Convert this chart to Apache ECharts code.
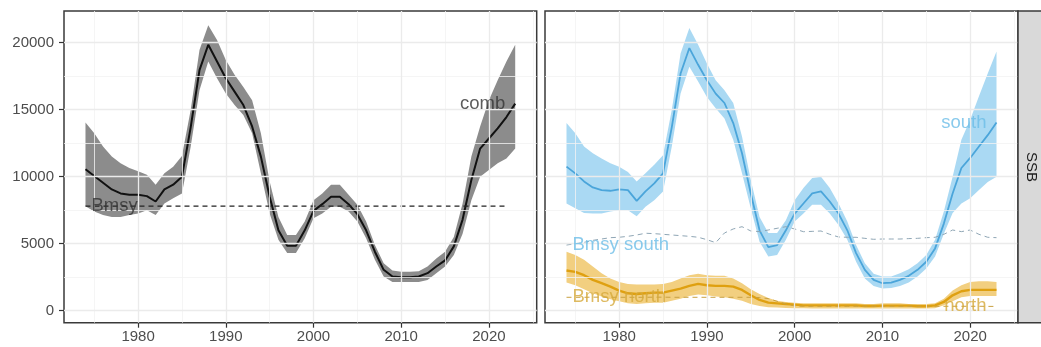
<!DOCTYPE html>
<html><head><meta charset="utf-8">
<script src="https://cdn.jsdelivr.net/npm/echarts@6/dist/echarts.min.js"></script>
<style>html,body{margin:0;padding:0;background:#fff}#c{width:1041px;height:347px}</style>
</head><body><div id="c"></div>
<script>
const years = [1974,1975,1976,1977,1978,1979,1980,1981,1982,1983,1984,1985,1986,1987,1988,1989,1990,1991,1992,1993,1994,1995,1996,1997,1998,1999,2000,2001,2002,2003,2004,2005,2006,2007,2008,2009,2010,2011,2012,2013,2014,2015,2016,2017,2018,2019,2020,2021,2022,2023];

const combMid = [10550,10050,9550,9050,8750,8650,8650,8550,8150,9050,9400,10000,13700,17950,19850,18600,17350,16350,15350,13750,11500,8500,6000,4850,4850,6000,7450,7950,8500,8500,7950,7200,6000,4400,3050,2550,2500,2500,2550,2800,3300,3750,4800,6800,9750,12100,12850,13600,14450,15450];
const combHi = [14050,13250,12250,11500,11000,10650,10400,10150,9400,10250,10750,11550,15000,19450,21300,20200,18700,17600,16700,15700,13250,9650,7000,5650,5650,6650,8250,8750,9400,9400,8650,7900,6650,4900,3550,3000,2900,2900,2950,3300,3900,4400,5500,8000,11500,13750,15700,17200,18600,19850];
const combLo = [7800,7400,7150,7000,7000,7150,7250,7500,7150,8000,8400,8750,12250,16450,18600,17350,16200,15350,14600,13250,10250,7250,5300,4300,4300,5400,6900,7250,7750,7750,7400,6650,5400,3800,2550,2150,2150,2150,2150,2300,2800,3300,4150,5750,8250,10000,10500,11000,11350,12100];
const bmsyCombYears = [1974, 2022];
const bmsyComb = 7800;

const southMid = [10750,10250,9650,9200,9000,8950,9050,9000,8200,8900,9500,10250,13700,17700,19600,18350,17200,16200,15500,14000,11750,8750,6000,4750,4900,6000,7250,8000,8750,8900,8150,7250,6000,4300,3050,2300,2050,2100,2300,2600,3050,3650,4650,6500,8750,10650,11400,12250,13100,14050];
const southHi = [14000,13250,12250,11750,11350,11000,10750,10350,9650,10250,10900,11600,15000,19200,21100,19850,18450,17200,16450,15500,13000,9750,7000,5800,5800,6750,8250,9150,9900,10000,9150,8000,6650,4900,3550,2750,2550,2550,2800,3100,3550,4150,5300,7400,10000,12750,14250,16000,17700,19350];
const southLo = [8000,7650,7300,7250,7250,7400,7500,7500,7050,7750,8250,8900,12250,16200,18200,17100,15950,15100,14350,12750,10250,7650,5150,4050,4150,5300,6650,7250,7900,7900,7250,6400,5300,3650,2400,1850,1650,1700,1850,2100,2550,3150,4050,5750,7300,8000,8400,9000,9600,10000];
const bmsySouth = [4900,5000,5100,5250,5350,5450,5480,5550,5650,5780,5750,5700,5650,5600,5550,5480,5300,5075,5800,6100,6269,5950,5900,6022,6150,6269,6100,5896,5920,5948,5700,5500,5480,5478,5400,5328,5350,5350,5350,5380,5400,5450,5478,5700,6022,5900,6022,5700,5478,5450];

const northMid = [3000,2900,2650,2300,2050,1800,1500,1300,1250,1300,1350,1350,1500,1650,1850,2000,1900,1850,1850,1800,1550,1150,800,600,550,500,450,400,400,400,400,400,400,400,350,350,380,380,380,380,330,330,400,650,1150,1450,1550,1550,1550,1550];
const northHi = [4400,4150,3800,3300,2800,2400,2150,2000,1950,1950,1950,2000,2150,2400,2650,2750,2650,2600,2600,2400,2050,1600,1250,950,750,650,600,550,550,550,550,550,550,550,500,500,550,550,550,500,500,500,550,900,1500,1900,2150,2200,2200,2150];
const northLo = [2100,1900,1600,1300,1050,850,700,550,500,550,600,600,750,900,1100,1200,1150,1050,1000,900,750,500,350,250,230,200,180,180,170,170,170,170,170,170,160,160,170,170,170,160,160,160,180,400,700,1000,1100,1100,1100,1100];
const bmsyNorth = [1000,1000,1000,1010,1010,1000,1000,1000,1000,1000,1010,1010,1000,1000,1000,1000,1000,1000,1000,1000,1000,1000,980,900,700,500,350,330,330,330,330,330,330,330,330,330,330,330,330,330,330,330,330,330,330,330,330,330,320,320];

const xTicks = [1980,1990,2000,2010,2020];
const xMinor = [1975,1985,1995,2005,2015,2025];
const yTicks = [0,5000,10000,15000,20000];
const yMinor = [2500,7500,12500,17500];
const labelsLeft = ['comb','Bmsy'];
const labelsRight = ['south','Bmsy south','north','Bmsy north'];

const FONT = 'Liberation Sans, Arial, sans-serif';
const XMIN = 1971.55, XMAX = 2025.45, YMIN = -896, YMAX = 22366;

const pairs = (arr) => years.map((y, i) => [y, arr[i]]);

function gridSeries(idx) {
  const major = {color: '#EBEBEB', width: 1.3, type: 'solid'};
  const minor = {color: '#F2F2F2', width: 0.8, type: 'solid'};
  const d = [];
  yMinor.forEach(v => d.push({yAxis: v, lineStyle: minor}));
  xMinor.forEach(v => d.push({xAxis: v, lineStyle: minor}));
  yTicks.forEach(v => d.push({yAxis: v, lineStyle: major}));
  xTicks.forEach(v => d.push({xAxis: v, lineStyle: major}));
  return {
    type: 'line', xAxisIndex: idx, yAxisIndex: idx, data: [], z: 1, silent: true,
    markLine: {silent: true, symbol: ['none', 'none'], label: {show: false}, animation: false, data: d}
  };
}

// ribbon drawn as one polygon through the axis scales
function band(lo, hi, color, idx) {
  return {
    type: 'custom', xAxisIndex: idx, yAxisIndex: idx, z: 2, silent: true,
    data: years.map((y, i) => [y, lo[i], hi[i]]),
    encode: {x: 0, y: [1, 2]},
    renderItem: function (params, api) {
      if (params.dataIndex !== 0) return null;
      const pts = [];
      for (let i = 0; i < years.length; i++) pts.push(api.coord([years[i], hi[i]]));
      for (let i = years.length - 1; i >= 0; i--) pts.push(api.coord([years[i], lo[i]]));
      return {type: 'polygon', shape: {points: pts}, style: {fill: color, stroke: null}};
    }
  };
}

function line(arr, color, width, idx, dash, z) {
  return {type: 'line', xAxisIndex: idx, yAxisIndex: idx, data: pairs(arr), symbol: 'none',
    lineStyle: {color: color, width: width, type: dash || 'solid'}, z: z || 3, silent: true};
}

function textLabel(text, x, y, color, pos, idx) {
  return {type: 'scatter', xAxisIndex: idx, yAxisIndex: idx, symbolSize: 0, z: 6, silent: true,
    data: [[x, y]],
    label: {show: true, formatter: text, position: pos, distance: pos === 'left' ? 10 : 6,
      color: color, fontSize: 18.5, fontFamily: FONT}};
}

const xAxisBase = (idx) => ({
  type: 'value', gridIndex: idx, min: XMIN, max: XMAX,
  axisLine: {show: false, onZero: false},
  axisTick: {show: true, length: 5, lineStyle: {color: '#333', width: 1.2}, customValues: xTicks},
  axisLabel: {customValues: xTicks, formatter: v => String(v), color: '#4d4d4d', fontSize: 15, fontFamily: FONT, margin: 7},
  splitLine: {show: false}
});

const last = years.length - 1;
const option = {
  animation: false,
  backgroundColor: '#fff',
  grid: [
    {left: 64, top: 11, width: 472.7, height: 311.7, show: true, borderColor: '#3a3a3a', borderWidth: 1.5, backgroundColor: '#fff'},
    {left: 545, top: 11, width: 473, height: 311.7, show: true, borderColor: '#3a3a3a', borderWidth: 1.5, backgroundColor: '#fff'}
  ],
  xAxis: [xAxisBase(0), xAxisBase(1)],
  yAxis: [
    {type: 'value', gridIndex: 0, min: YMIN, max: YMAX,
     axisLine: {show: false},
     axisTick: {show: true, length: 5, lineStyle: {color: '#333', width: 1.2}, customValues: yTicks},
     axisLabel: {customValues: yTicks, formatter: v => String(v), color: '#4d4d4d', fontSize: 15, fontFamily: FONT, margin: 10},
     splitLine: {show: false}},
    {type: 'value', gridIndex: 1, min: YMIN, max: YMAX,
     axisLine: {show: false}, axisTick: {show: false}, axisLabel: {show: false}, splitLine: {show: false}}
  ],
  series: [
    gridSeries(0), gridSeries(1),
    band(combLo, combHi, '#8c8c8c', 0),
    line(combMid, '#111', 2, 0),
    {type: 'line', xAxisIndex: 0, yAxisIndex: 0, data: bmsyCombYears.map(y => [y, bmsyComb]), symbol: 'none',
     lineStyle: {color: '#222', width: 1.2, type: [5, 4]}, z: 4, silent: true},
    textLabel(labelsLeft[0], years[last], combMid[last], '#333', 'left', 0),
    textLabel(labelsLeft[1], years[0], bmsyComb, '#333', 'right', 0),

    band(southLo, southHi, '#AAD9F3', 1),
    band(northLo, northHi, '#F2CF80', 1),
    line(southMid, '#4BA5DA', 1.8, 1),
    line(northMid, '#DFA010', 2.4, 1),
    line(bmsySouth, '#8FA6B5', 1, 1, [5, 4], 4),
    line(bmsyNorth, '#C9A040', 1, 1, [5, 4], 4),
    textLabel(labelsRight[0], years[last], southMid[last], '#6CBDE7', 'left', 1),
    textLabel(labelsRight[1], years[0], bmsySouth[0], '#6CBDE7', 'right', 1),
    textLabel(labelsRight[2], years[last], bmsyNorth[last], '#D6A93A', 'left', 1),
    textLabel(labelsRight[3], years[0], bmsyNorth[0], '#D6A93A', 'right', 1)
  ],
  graphic: [
    {type: 'rect', shape: {x: 1018, y: 11, width: 30, height: 311.7}, style: {fill: '#D9D9D9', stroke: '#3a3a3a', lineWidth: 1.5}, z: 10},
    {type: 'text', x: 1031, y: 167, rotation: -Math.PI / 2,
     style: {text: 'SSB', fill: '#1a1a1a', font: '15px ' + FONT, textAlign: 'center', textVerticalAlign: 'middle'}, z: 11}
  ]
};

const chart = echarts.init(document.getElementById('c'), null, {renderer: 'canvas'});
chart.setOption(option);
</script></body></html>
